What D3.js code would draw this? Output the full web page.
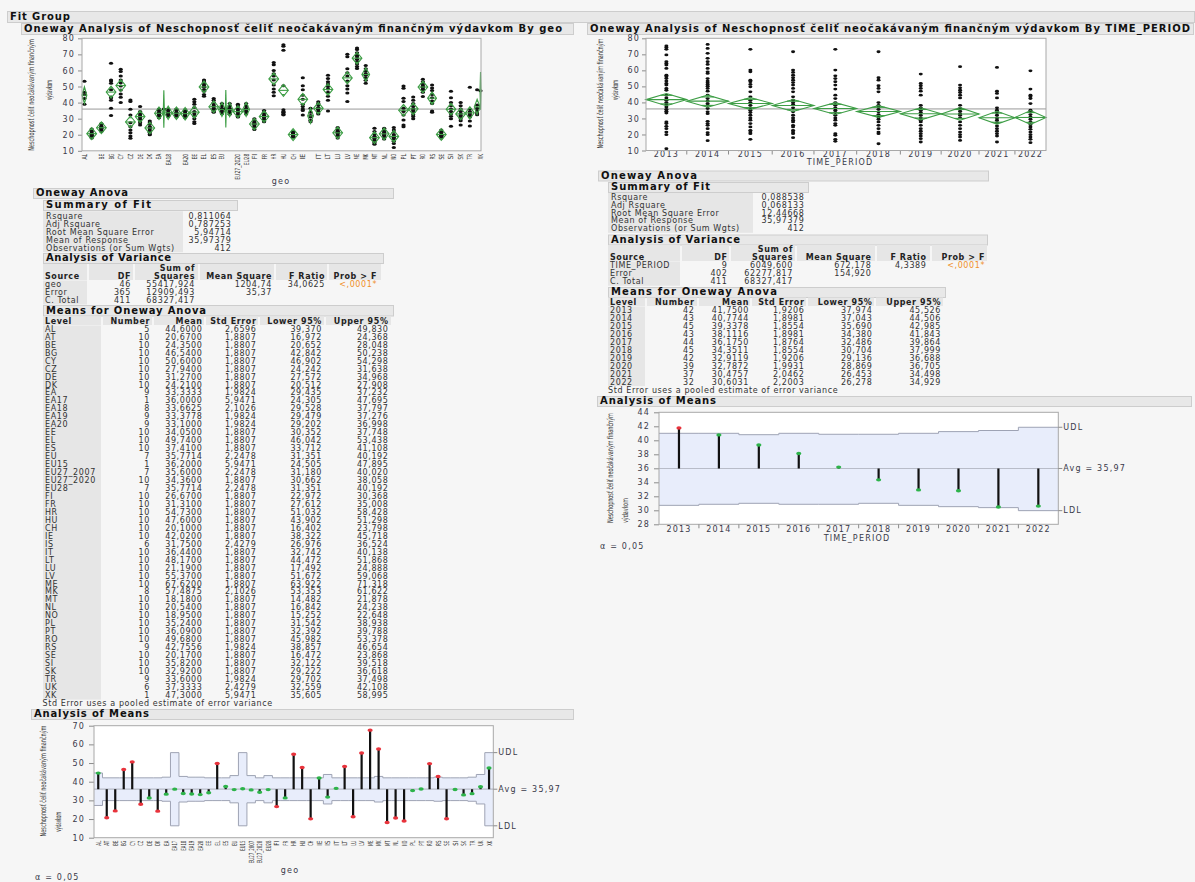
<!DOCTYPE html>
<html>
<head>
<meta charset="utf-8">
<script src="https://cdn.jsdelivr.net/npm/d3@7"></script>
<style>
  body { margin: 0; background: #f6f6f6; }
  svg text { font-family: "DejaVu Sans", sans-serif; }
  .hd { font-size: 10px; font-weight: bold; fill: #111; }
  .tb { font-size: 8px; letter-spacing: 0.6px; fill: #333; }
  .th { font-size: 8px; font-weight: bold; letter-spacing: 0.6px; fill: #222; }
  .ax { font-size: 8px; letter-spacing: 1.2px; fill: #3a3a4a; }
  .at { font-size: 8px; fill: #333; }
  .xl { font-size: 7px; fill: #333; }
</style>
</head>
<body>
<script>
// ---- data: by geo ----
const geoLevels = ["AL","AT","BE","BG","CY","CZ","DE","DK","EA","EA17","EA18","EA19","EA20","EE","EL","ES","EU","EU15","EU27_2007","EU27_2020","EU28","FI","FR","HR","HU","CH","IE","IS","IT","LT","LU","LV","ME","MK","MT","NL","NO","PL","PT","RO","RS","SE","SI","SK","TR","UK","XK"];
const geoN = [5,10,10,10,10,10,10,10,9,1,8,9,9,10,10,10,7,1,7,10,7,10,10,10,10,10,10,6,10,10,10,10,10,8,10,10,10,10,10,10,9,10,10,10,9,6,1];
const geoMean = [44.6,20.67,24.35,46.54,50.6,27.94,31.27,24.21,33.3333,36,33.6625,33.3778,33.1,34.05,49.74,37.41,35.7714,36.2,35.6,34.36,35.7714,26.67,31.31,54.73,47.6,20.1,42.02,31.75,36.44,48.17,21.19,55.37,67.62,57.4875,18.18,20.54,18.95,35.24,36.09,49.68,42.7556,20.17,35.82,32.92,33.6,37.3333,47.3];
const geoStdErr = [2.6596,1.8807,1.8807,1.8807,1.8807,1.8807,1.8807,1.8807,1.9824,5.9471,2.1026,1.9824,1.9824,1.8807,1.8807,1.8807,2.2478,5.9471,2.2478,1.8807,2.2478,1.8807,1.8807,1.8807,1.8807,1.8807,1.8807,2.4279,1.8807,1.8807,1.8807,1.8807,1.8807,2.1026,1.8807,1.8807,1.8807,1.8807,1.8807,1.8807,1.9824,1.8807,1.8807,1.8807,1.9824,2.4279,5.9471];
const geoLower = [39.37,16.972,20.652,42.842,46.902,24.242,27.572,20.512,29.435,24.305,29.528,29.479,29.202,30.352,46.042,33.712,31.351,24.505,31.18,30.662,31.351,22.972,27.612,51.032,43.902,16.402,38.322,26.976,32.742,44.472,17.492,51.672,63.922,53.353,14.482,16.842,15.252,31.542,32.392,45.982,38.857,16.472,32.122,29.222,29.702,32.559,35.605];
const geoUpper = [49.83,24.368,28.048,50.238,54.298,31.638,34.968,27.908,37.232,47.695,37.797,37.276,36.998,37.748,53.438,41.108,40.192,47.895,40.02,38.058,40.192,30.368,35.008,58.428,51.298,23.798,45.718,36.524,40.138,51.868,24.888,59.068,71.318,61.622,21.878,24.238,22.648,38.938,39.788,53.378,46.654,23.868,39.518,36.618,37.498,42.108,58.995];
const geoPoints = [
  [53.2,46.5,44.8,42.5,39.0],
  [23.5,23.0,22.0,21.0,20.5,20.0,19.5,19.0,18.5,18.0],
  [27.0,26.5,25.5,25.0,24.5,24.0,23.5,23.0,22.5,22.0],
  [64.5,54.0,53.5,52.0,48.0,43.5,43.0,41.5,36.5,32.0],
  [60.7,59.3,56.6,54.0,52.4,50.3,47.8,45.3,43.3,40.0],
  [41.6,40.6,35.8,32.3,27.5,25.0,23.0,21.3,19.2,17.8],
  [37.5,34.5,33.5,32.5,31.5,30.5,29.5,28.5,27.5,26.0],
  [28.5,27.5,26.5,25.0,24.5,23.5,22.5,21.5,20.5,20.0],
  [36.0,35.5,35.0,34.0,33.0,32.5,31.5,31.0,30.5],
  [36.0],
  [36.0,35.5,35.0,34.0,33.0,32.5,32.0,31.3],
  [36.0,35.5,35.0,34.0,33.0,32.5,32.0,31.5,31.0],
  [35.5,35.0,34.5,33.5,33.0,32.5,32.0,31.5,30.5],
  [42.0,40.5,39.0,37.0,34.5,33.0,31.5,30.0,28.0,27.0],
  [54.0,53.5,52.5,51.5,50.5,49.5,48.0,47.0,45.0,44.0],
  [42.5,41.5,40.0,38.5,37.5,36.5,35.5,35.0,34.5,34.0],
  [39.5,38.0,36.5,35.5,34.5,33.5,33.0],
  [36.2],
  [39.5,38.0,36.5,35.0,34.0,33.5,32.7],
  [39.0,38.0,36.5,35.5,34.5,33.5,32.5,31.6,31.5,31.0],
  [39.5,38.0,36.5,35.5,34.5,33.5,32.9],
  [30.0,29.0,28.0,27.5,27.0,26.5,26.0,25.0,24.5,23.2],
  [35.0,34.0,33.0,32.0,31.5,31.0,30.5,29.5,28.6,28.0],
  [65.0,63.5,60.0,58.0,56.5,54.0,51.0,48.5,46.5,44.3],
  [76.0,75.0,72.5,50.5,35.5,34.5,34.0,33.0,32.5,32.5],
  [22.0,21.5,21.0,20.5,20.0,20.0,19.5,19.0,19.0,18.5],
  [55.5,50.5,48.0,44.5,42.0,39.0,37.5,36.0,35.0,32.2],
  [36.5,34.0,32.0,31.0,29.0,28.0],
  [40.5,39.5,38.5,37.0,36.5,36.0,35.5,34.5,33.5,32.9],
  [57.0,55.0,53.0,51.5,50.0,48.5,46.5,44.0,41.5,34.7],
  [24.5,23.5,22.5,22.0,21.5,21.0,20.5,19.5,19.0,17.9],
  [70.0,68.5,61.0,58.5,56.5,53.5,50.5,48.5,46.0,40.7],
  [74.0,73.0,71.0,69.5,68.5,67.0,65.5,64.0,62.5,61.2],
  [63.0,61.0,59.5,58.0,57.0,55.5,53.9,52.0],
  [24.0,22.0,20.5,19.0,18.0,17.5,16.5,15.5,14.8,14.0],
  [24.0,23.5,22.5,21.5,20.5,20.0,19.5,18.5,18.0,17.4],
  [24.5,23.0,21.5,20.0,19.0,18.5,17.5,16.0,14.5,12.0],
  [50.3,48.9,42.7,40.6,36.4,34.4,32.3,29.2,26.0,25.0],
  [43.5,41.5,39.5,37.5,36.0,35.0,34.0,32.5,31.4,30.0],
  [54.5,53.0,52.0,51.0,50.0,49.5,48.5,48.0,46.5,43.8],
  [51.0,49.0,47.5,45.0,43.0,41.0,39.5,34.8,34.0],
  [23.0,22.0,21.5,20.5,20.0,19.7,19.5,19.0,18.5,18.0],
  [47.0,43.0,40.0,38.0,36.0,34.5,33.0,31.5,30.0,25.2],
  [40.0,38.0,36.0,34.5,33.0,32.0,31.0,30.0,28.7,26.0],
  [49.5,36.0,34.5,33.5,32.5,31.5,31.0,28.5,25.4],
  [48.0,38.5,36.5,35.0,33.5,32.5],
  [47.3]
];
const geoHiddenTopLabels = ["AT","EA17","EA19","EU15","EU27_2007","IS","UK"];
// half width of the ANOM decision band, by group size
const geoLimitHalf = {1: 19.6, 5: 8.7, 6: 7.9, 7: 7.3, 8: 6.85, 9: 6.45, 10: 6.1};

// ---- data: by TIME_PERIOD ----
const years = ["2013","2014","2015","2016","2017","2018","2019","2020","2021","2022"];
const yearN = [42,43,45,43,44,45,42,39,37,32];
const yearMean = [41.75,40.7744,39.3378,38.1116,36.175,34.3511,32.9119,32.7872,30.4757,30.6031];
const yearStdErr = [1.9206,1.8981,1.8554,1.8981,1.8764,1.8554,1.9206,1.9931,2.0462,2.2003];
const yearLower = [37.974,37.043,35.69,34.38,32.486,30.704,29.136,28.869,26.453,26.278];
const yearUpper = [45.526,44.506,42.985,41.843,39.864,37.999,36.688,36.705,34.498,34.929];
const yearPoints = [
  [75.2,74.2,73.1,69.6,65.4,64.3,63.3,61.2,57.0,56.0,54.9,53.3,51.8,50.8,48.7,47.6,44.5,42.8,41.4,39.9,38.7,37.2,35.7,34.5,33.4,27.8,26.8,25.1,23.6,21.5,19.9,11.1],
  [76.2,73.7,70.6,67.5,65.4,63.7,61.2,59.1,58.1,54.9,53.3,52.2,51.2,50.1,48.7,47.0,44.5,42.4,40.8,39.3,38.2,36.2,34.1,33.0,28.2,26.8,25.7,23.6,21.1,19.9,16.1],
  [73.1,60.2,59.1,53.9,52.9,51.2,49.7,46.6,43.5,41.4,39.9,38.2,36.6,35.1,33.7,32.0,30.3,28.9,26.8,24.7,22.6,21.5,20.5,17.0],
  [71.6,60.2,58.7,57.0,55.4,53.9,52.4,50.8,48.7,46.6,43.5,41.4,39.9,38.7,36.6,34.1,32.0,30.3,28.9,27.8,25.7,24.7,22.6,21.5,20.5,18.0],
  [73.1,60.2,56.6,54.9,52.9,50.8,48.3,44.5,42.4,39.9,38.2,36.6,35.1,33.7,32.0,30.3,28.9,26.8,25.7,20.5,19.5,17.0,15.7],
  [71.6,55.4,53.9,50.4,48.7,46.6,39.9,38.2,37.2,35.7,34.1,32.4,30.9,29.5,27.8,25.7,23.6,21.5,20.5,14.2],
  [57.7,51.8,50.4,48.7,47.0,44.5,38.2,36.6,35.1,33.7,32.0,30.3,28.9,27.8,25.7,23.6,22.0,20.5,19.0,17.4,15.3],
  [62.3,50.8,49.1,47.6,46.2,44.5,42.8,38.2,36.2,34.5,33.0,32.0,30.3,27.8,25.7,23.6,21.5,19.9,18.4,16.3],
  [61.8,47.0,45.6,42.8,36.6,35.1,33.7,32.0,30.3,28.9,27.4,25.3,23.6,22.0,20.5,19.0,15.3],
  [59.7,48.3,44.5,43.5,42.4,39.3,35.1,34.1,32.4,30.9,29.5,27.8,26.1,24.7,23.2,21.5,19.9,18.4,17.0,14.9]
];
const yearUDL = [41.0,41.0,40.8,41.0,40.86,40.86,41.0,41.24,41.4,41.86];
const yearLDL = [30.71,30.86,31.0,30.86,30.86,31.0,30.71,30.52,30.38,29.95];

const grandMean = 35.97379;
const topTicks = [10,20,30,40,50,60,70,80];
const geoAnomTicks = [10,20,30,40,50,60,70];
const yearAnomTicks = [28,30,32,34,36,38,40,42,44];

const geoSummary = [["Rsquare","0,811064"],["Adj Rsquare","0,787253"],["Root Mean Square Error","5,94714"],["Mean of Response","35,97379"],["Observations (or Sum Wgts)","412"]];
const yearSummary = [["Rsquare","0,088538"],["Adj Rsquare","0,068133"],["Root Mean Square Error","12,44668"],["Mean of Response","35,97379"],["Observations (or Sum Wgts)","412"]];
const geoAnova = [["geo","46","55417,924","1204,74","34,0625","<,0001*"],["Error","365","12909,493","35,37","",""],["C. Total","411","68327,417","","",""]];
const yearAnova = [["TIME_PERIOD","9","6049,600","672,178","4,3389","<,0001*"],["Error","402","62277,817","154,920","",""],["C. Total","411","68327,417","","",""]];

const yTitle1 = "Neschopnosť čeliť neočakávaným finančným";
const yTitle2 = "výdavkom";

// ---- page ----
const svg = d3.select("body").append("svg").attr("width", 1195).attr("height", 882);
svg.append("rect").attr("width", 1195).attr("height", 882).attr("fill", "#f6f6f6");

const fmt = (v, d) => v.toFixed(d).replace(".", ",");

function bar(x, y, w, h, label, len) {
  svg.append("rect").attr("x", x + 0.5).attr("y", y + 0.5).attr("width", w).attr("height", h)
    .attr("fill", "#e8e8e8").attr("stroke", "#cdcdcd");
  svg.append("text").attr("class", "hd").attr("x", x + 3).attr("y", y + h - 1.6)
    .attr("textLength", len).attr("lengthAdjust", "spacing").text(label);
}

function txt(x, y, s, anchor, cls, color) {
  const t = svg.append("text").attr("class", cls).attr("x", x).attr("y", y).attr("dy", "0.35em")
    .attr("text-anchor", anchor).text(s);
  if (color) t.style("fill", color);
  return t;
}

// rotated text squeezed along its own direction to a given length
function vtext(x, y, s, anchor, cls, len) {
  const t = svg.append("text").attr("class", cls).attr("text-anchor", anchor).attr("dy", "0.35em").text(s);
  const k = len / t.node().getComputedTextLength();
  t.attr("transform", `translate(${x},${y}) rotate(-90) scale(${k},1)`);
  return t;
}

function summaryTable(rows, o) {
  svg.append("rect").attr("x", o.x).attr("y", o.y0 - o.dy / 2 - 0.5).attr("width", o.lw)
    .attr("height", o.dy * rows.length + 1).attr("fill", "#e6e6e6");
  rows.forEach((r, i) => {
    txt(o.x + 3, o.y0 + i * o.dy, r[0], "start", "tb");
    txt(o.vr, o.y0 + i * o.dy, r[1], "end", "tb");
  });
}

function gridTable(o) {
  o.cols.forEach(c => svg.append("rect").attr("x", c[0]).attr("y", o.hy0).attr("width", c[1] - c[0])
    .attr("height", o.hy1 - o.hy0).attr("fill", "#e6e6e6"));
  svg.append("rect").attr("x", o.cols[0][0]).attr("y", o.hy1 + 0.5).attr("width", o.cols[0][1] - o.cols[0][0])
    .attr("height", o.rows.length * o.dy).attr("fill", "#e6e6e6");
  o.head.forEach(line => line.t.forEach((s, j) => {
    if (s) txt(j === 0 ? o.cols[0][0] + 2 : o.tx[j], line.y, s, j === 0 ? "start" : "end", "th");
  }));
  o.rows.forEach((r, i) => r.forEach((s, j) => {
    if (s === "") return;
    txt(j === 0 ? o.cols[0][0] + 2 : o.tx[j], o.y0 + i * o.dy, s, j === 0 ? "start" : "end", "tb",
      s.startsWith("<") ? "#f0902a" : null);
  }));
}

function yTitle(xa, ya, la, xb, yb, lb, anchorB) {
  vtext(xa, ya, yTitle1, "middle", "at", la);
  vtext(xb, yb, yTitle2, anchorB, "at", lb);
}

function yAxis(scale, ticks, x, size, pad) {
  const g = svg.append("g").attr("transform", `translate(${x},0)`)
    .call(d3.axisLeft(scale).tickValues(ticks).tickSize(size).tickPadding(pad));
  g.select(".domain").remove();
  g.selectAll(".tick line").attr("stroke", "#8c8c8c");
  g.selectAll(".tick text").attr("class", "ax").attr("font-size", null).attr("font-family", null);
  return g;
}

function frame(b) {
  svg.append("rect").attr("x", b.l).attr("y", b.t).attr("width", b.r - b.l).attr("height", b.b - b.t)
    .attr("fill", "#fff");
}
function frameLine(b) {
  svg.append("rect").attr("x", b.l).attr("y", b.t).attr("width", b.r - b.l).attr("height", b.b - b.t)
    .attr("fill", "none").attr("stroke", "#a8a8a8");
}

function diamond(g, xa, xb, mean, lo, hi, y) {
  const xm = (xa + xb) / 2, w = xb - xa;
  const st = { stroke: "#3e9e46", "stroke-width": 1.1, fill: "none" };
  const p = g.append("path").attr("d", `M${xa},${y(mean)}L${xm},${y(hi)}L${xb},${y(mean)}L${xm},${y(lo)}Z`);
  const m = g.append("line").attr("x1", xa).attr("x2", xb).attr("y1", y(mean)).attr("y2", y(mean));
  const h = (hi - lo) / 2 / Math.SQRT2, k = w * (1 - 1 / Math.SQRT2) / 2;
  const o1 = g.append("line").attr("x1", xm - k).attr("x2", xm + k).attr("y1", y(mean + h)).attr("y2", y(mean + h));
  const o2 = g.append("line").attr("x1", xm - k).attr("x2", xm + k).attr("y1", y(mean - h)).attr("y2", y(mean - h));
  [p, m, o1, o2].forEach(e => Object.entries(st).forEach(([a, v]) => e.attr(a, v)));
}

// ---- headers ----
bar(7, 11, 1187, 11, "Fit Group", 60);
bar(21, 23, 552, 11, "Oneway Analysis of Neschopnosť čeliť neočakávaným finančným výdavkom By geo", 538);
bar(587, 23, 606, 11, "Oneway Analysis of Neschopnosť čeliť neočakávaným finančným výdavkom By TIME_PERIOD", 600);

// ---- oneway by geo ----
const TL = { l: 82, r: 481, t: 38.3, b: 150.8 };
const yTL = d3.scaleLinear().domain([10, 80]).range([TL.b, TL.t]);
const xTL = d3.scaleLinear().domain([0, d3.sum(geoN)]).range([TL.l, TL.r]);
const geoStart = d3.cumsum([0].concat(geoN.slice(0, -1)));
frame(TL);
yAxis(yTL, topTicks, TL.l, 4, 3);
const gTL = svg.append("g");
gTL.append("line").attr("x1", TL.l).attr("x2", TL.r).attr("y1", yTL(grandMean)).attr("y2", yTL(grandMean))
  .attr("stroke", "#c4c4c4").attr("stroke-width", 1.8);
geoLevels.forEach((lv, i) => {
  const xa = xTL(geoStart[i]), xb = xTL(geoStart[i] + geoN[i]), xm = (xa + xb) / 2;
  gTL.selectAll(null).data(geoPoints[i]).join("ellipse")
    .attr("cx", xm).attr("cy", d => yTL(d)).attr("rx", 2.1).attr("ry", 1.5).attr("fill", "#111");
  diamond(gTL, xa, xb, geoMean[i], geoLower[i], geoUpper[i], yTL);
  if (!geoHiddenTopLabels.includes(lv)) vtext(xm, TL.b + 3, lv, "end", "xl", lv.length * 2.9);
});
frameLine(TL);
yTitle(31, 95, 112, 49, 90, 20, "middle");
txt(281, 181.5, "geo", "middle", "ax");

// ---- oneway by TIME_PERIOD ----
const TR = { l: 646, r: 1046, t: 38.3, b: 150.5 };
const yTR = d3.scaleLinear().domain([10, 80]).range([TR.b, TR.t]);
const xTR = d3.scaleLinear().domain([0, d3.sum(yearN)]).range([TR.l, TR.r]);
const yearStart = d3.cumsum([0].concat(yearN.slice(0, -1)));
frame(TR);
yAxis(yTR, topTicks, TR.l, 4, 2);
const gTR = svg.append("g");
gTR.append("line").attr("x1", TR.l).attr("x2", TR.r).attr("y1", yTR(grandMean)).attr("y2", yTR(grandMean))
  .attr("stroke", "#c4c4c4").attr("stroke-width", 1.8);
years.forEach((yr, i) => {
  const xa = xTR(yearStart[i]), xb = xTR(yearStart[i] + yearN[i]), xm = (xa + xb) / 2;
  gTR.selectAll(null).data(yearPoints[i]).join("ellipse")
    .attr("cx", xm).attr("cy", d => yTR(d)).attr("rx", 2).attr("ry", 1.4).attr("fill", "#111");
  diamond(gTR, xa, xb, yearMean[i], yearLower[i], yearUpper[i], yTR);
  txt(xm, 154.5, yr, "middle", "ax");
  if (i > 0) svg.append("line").attr("x1", xa).attr("x2", xa).attr("y1", TR.b).attr("y2", TR.b + 4).attr("stroke", "#8c8c8c");
});
frameLine(TR);
yTitle(600, 93.5, 110, 615, 90, 20, "middle");
txt(840, 162, "TIME_PERIOD", "middle", "ax");

// ---- left tables ----
bar(33, 188, 360, 10, "Oneway Anova", 92);
bar(43, 200, 194, 10, "Summary of Fit", 105);
summaryTable(geoSummary, { x: 43, lw: 140, vr: 231.5, y0: 215.8, dy: 8 });
bar(43, 253, 340, 10, "Analysis of Variance", 125);
gridTable({
  cols: [[43, 87], [89, 133], [135, 198], [200, 274], [276, 327], [329, 381]],
  tx: [45, 131, 195, 272, 325, 377], hy0: 264, hy1: 280,
  head: [{ y: 268.3, t: ["", "", "Sum of", "", "", ""] },
         { y: 276, t: ["Source", "DF", "Squares", "Mean Square", "F Ratio", "Prob > F"] }],
  rows: geoAnova, y0: 284.3, dy: 8
});
bar(43, 305, 350, 10.5, "Means for Oneway Anova", 160);
gridTable({
  cols: [[43, 101], [103, 152], [154, 204], [206, 258], [260, 324], [326, 391]],
  tx: [45, 150, 202.5, 256.5, 322, 388.5], hy0: 316.5, hy1: 325,
  head: [{ y: 320.7, t: ["Level", "Number", "Mean", "Std Error", "Lower 95%", "Upper 95%"] }],
  rows: geoLevels.map((lv, i) => [lv, String(geoN[i]), fmt(geoMean[i], 4), fmt(geoStdErr[i], 4), fmt(geoLower[i], 3), fmt(geoUpper[i], 3)]),
  y0: 329, dy: 7.96
});
txt(42.5, 703.3, "Std Error uses a pooled estimate of error variance", "start", "tb");

// ---- right tables ----
bar(598, 170.5, 390, 10, "Oneway Anova", 96);
bar(608, 182, 200, 10, "Summary of Fit", 99);
summaryTable(yearSummary, { x: 608, lw: 145, vr: 804.5, y0: 197.4, dy: 7.75 });
bar(608, 234.5, 379, 10, "Analysis of Variance", 129);
gridTable({
  cols: [[608, 680], [682, 729], [731, 795], [797, 875], [877, 930], [932, 987]],
  tx: [610, 727.5, 793, 871.5, 926.5, 985], hy0: 245, hy1: 261,
  head: [{ y: 249.3, t: ["", "", "Sum of", "", "", ""] },
         { y: 257, t: ["Source", "DF", "Squares", "Mean Square", "F Ratio", "Prob > F"] }],
  rows: yearAnova, y0: 265, dy: 8.1
});
bar(608, 287, 337, 10, "Means for Oneway Anova", 166);
gridTable({
  cols: [[608, 645], [647, 697], [699, 750], [752, 806], [808, 874], [876, 943]],
  tx: [611, 694.5, 749, 804.5, 872.5, 941], hy0: 297.5, hy1: 306,
  head: [{ y: 301.7, t: ["Level", "Number", "Mean", "Std Error", "Lower 95%", "Upper 95%"] }],
  rows: years.map((yr, i) => [yr, String(yearN[i]), fmt(yearMean[i], 4), fmt(yearStdErr[i], 4), fmt(yearLower[i], 3), fmt(yearUpper[i], 3)]),
  y0: 310.3, dy: 7.96
});
txt(608, 390.3, "Std Error uses a pooled estimate of error variance", "start", "tb");

// ---- analysis of means helper ----
function anom(b, levels, means, udl, ldl, y, xb) {
  const g = svg.append("g");
  const upper = [], lower = [];
  levels.forEach((lv, i) => {
    const x0 = xb(lv), x1 = x0 + xb.bandwidth();
    upper.push([x0, udl[i]], [x1, udl[i]]);
    lower.push([x0, ldl[i]], [x1, ldl[i]]);
  });
  g.append("path").datum(upper.map((p, i) => [p[0], p[1], lower[i][1]]))
    .attr("d", d3.area().x(d => d[0]).y0(d => y(d[2])).y1(d => y(d[1])))
    .attr("fill", "#e8edfb");
  [upper, lower].forEach(pts => g.append("path").datum(pts)
    .attr("d", d3.line().x(d => d[0]).y(d => y(d[1])))
    .attr("fill", "none").attr("stroke", "#9ea3b4").attr("stroke-width", 1));
  g.append("line").attr("x1", b.l).attr("x2", b.r).attr("y1", y(grandMean)).attr("y2", y(grandMean))
    .attr("stroke", "#b8bcc8").attr("stroke-width", 1.2);
  levels.forEach((lv, i) => {
    const xm = xb(lv) + xb.bandwidth() / 2;
    g.append("line").attr("x1", xm).attr("x2", xm).attr("y1", y(grandMean)).attr("y2", y(means[i]))
      .attr("stroke", "#111").attr("stroke-width", 2.2);
    const out = means[i] > udl[i] || means[i] < ldl[i];
    g.append("ellipse").attr("cx", xm).attr("cy", y(means[i])).attr("rx", 2.6).attr("ry", 1.7)
      .attr("fill", out ? "#e8333c" : "#2db34a");
  });
  frameLine(b);
  const last = levels.length - 1;
  [["UDL", udl[last]], ["Avg = 35,97", grandMean], ["LDL", ldl[last]]].forEach(([s, v]) => {
    svg.append("line").attr("x1", b.r).attr("x2", b.r + 4).attr("y1", y(v)).attr("y2", y(v)).attr("stroke", "#8c8c8c");
    txt(b.r + 5, y(v), s, "start", "ax");
  });
}

// ---- analysis of means: TIME_PERIOD ----
bar(597, 396, 594, 10, "Analysis of Means", 116);
const RA = { l: 659, r: 1058.3, t: 412.3, b: 524.3 };
const yRA = d3.scaleLinear().domain([28, 44]).range([RA.b, RA.t]);
const xRA = d3.scaleBand().domain(years).range([RA.l, RA.r]);
frame(RA);
yAxis(yRA, yearAnomTicks, RA.l, 5, 4);
anom(RA, years, yearMean, yearUDL, yearLDL, yRA, xRA);
years.forEach((yr, i) => {
  txt(xRA(yr) + xRA.bandwidth() / 2, 529.5, yr, "middle", "ax");
  if (i > 0) svg.append("line").attr("x1", xRA(yr)).attr("x2", xRA(yr)).attr("y1", RA.b).attr("y2", RA.b + 4).attr("stroke", "#8c8c8c");
});
yTitle(610, 468, 110, 625, 523, 25, "start");
txt(857, 537.8, "TIME_PERIOD", "middle", "ax");
txt(600, 546.5, "α = 0,05", "start", "ax");

// ---- analysis of means: geo ----
bar(31, 709, 542, 10, "Analysis of Means", 115);
const BL = { l: 94, r: 493.3, t: 725.7, b: 837.7 };
const yBL = d3.scaleLinear().domain([10, 70]).range([BL.b, BL.t]);
const xBL = d3.scaleBand().domain(geoLevels).range([BL.l, BL.r]);
frame(BL);
yAxis(yBL, geoAnomTicks, BL.l, 5, 4);
anom(BL, geoLevels, geoMean,
  geoN.map(n => grandMean + geoLimitHalf[n]), geoN.map(n => grandMean - geoLimitHalf[n]), yBL, xBL);
geoLevels.forEach(lv => vtext(xBL(lv) + xBL.bandwidth() / 2, BL.b + 3, lv, "end", "xl", lv.length * 2.5));
yTitle(43.3, 781, 111, 58.3, 831.7, 20, "start");
txt(290, 870, "geo", "middle", "ax");
txt(35, 877.5, "α = 0,05", "start", "ax");
</script>
</body>
</html>
